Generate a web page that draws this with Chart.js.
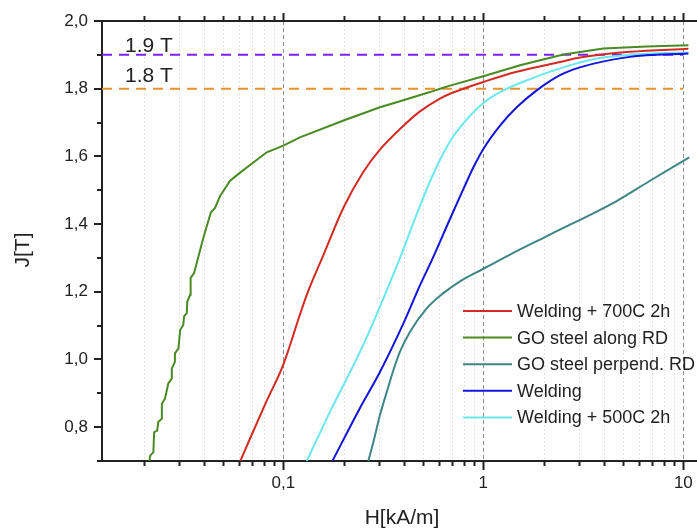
<!DOCTYPE html>
<html>
<head>
<meta charset="utf-8">
<title>J(H)</title>
<script src="https://cdn.jsdelivr.net/npm/chart.js@4.4.1/dist/chart.umd.min.js"></script>
<style>
  html, body { margin: 0; padding: 0; background: #fff; }
  #wrap { width: 697px; height: 528px; }
</style>
</head>
<body>
<div id="wrap"><canvas id="chart" width="697" height="528"></canvas></div>
<script>
// Measured curves, pairs of [H in kA/m, J in T]
const welding700 = [
    [0.061, 0.70], [0.068, 0.765], [0.082, 0.874], [0.100, 0.985], [0.121, 1.132],
    [0.131, 1.191], [0.159, 1.310], [0.200, 1.449], [0.251, 1.554], [0.304, 1.620],
    [0.383, 1.681], [0.482, 1.733], [0.607, 1.771], [0.681, 1.785], [0.794, 1.800],
    [1.0, 1.820], [1.469, 1.850], [2.42, 1.879], [3.04, 1.892], [5.41, 1.909],
    [10.6, 1.918]
];
const goAlongRD = [
    [0.0214, 0.70], [0.0216, 0.716], [0.0224, 0.726], [0.0226, 0.785], [0.0234, 0.790],
    [0.0237, 0.815], [0.0247, 0.825], [0.0247, 0.869], [0.0256, 0.884], [0.0266, 0.929],
    [0.0277, 0.944], [0.0277, 0.973], [0.0287, 0.993], [0.0287, 1.018], [0.0299, 1.033],
    [0.0305, 1.087], [0.0316, 1.102], [0.0319, 1.127], [0.0329, 1.137], [0.0331, 1.171],
    [0.0342, 1.191], [0.0344, 1.241], [0.0358, 1.255], [0.0369, 1.285], [0.0398, 1.359],
    [0.0434, 1.434], [0.0455, 1.447], [0.0483, 1.483], [0.0542, 1.528], [0.0608, 1.552],
    [0.0708, 1.582], [0.0826, 1.612], [0.100, 1.632], [0.121, 1.656], [0.200, 1.706],
    [0.304, 1.745], [0.383, 1.763], [0.541, 1.790], [0.607, 1.800], [0.681, 1.809],
    [1.0, 1.837], [1.526, 1.869], [1.921, 1.884], [2.512, 1.901], [3.981, 1.919],
    [6.56, 1.925], [10.6, 1.928]
];
const goPerpRD = [
    [0.266, 0.70], [0.282, 0.756], [0.304, 0.835], [0.329, 0.904], [0.355, 0.968],
    [0.383, 1.023], [0.430, 1.082], [0.521, 1.151], [0.631, 1.196], [0.765, 1.231],
    [1.0, 1.268], [1.36, 1.310], [2.154, 1.369], [4.64, 1.468], [6.81, 1.528],
    [10.7, 1.597]
];
const welding = [
    [0.176, 0.70], [0.241, 0.855], [0.304, 0.963], [0.398, 1.106], [0.482, 1.219],
    [0.552, 1.293], [0.681, 1.415], [0.794, 1.503], [0.891, 1.567], [1.0, 1.622],
    [1.212, 1.691], [1.469, 1.745], [1.848, 1.795], [2.418, 1.840], [3.04, 1.863],
    [5.41, 1.894], [10.6, 1.904]
];
const welding500 = [
    [0.131, 0.70], [0.171, 0.845], [0.251, 1.043], [0.383, 1.300], [0.464, 1.429],
    [0.562, 1.548], [0.681, 1.644], [0.826, 1.709], [1.0, 1.758], [1.259, 1.795],
    [1.778, 1.832], [2.42, 1.860], [3.69, 1.889], [6.56, 1.903], [10.6, 1.907]
];

const seriesNames = ['Welding + 700C 2h', 'GO steel along RD', 'GO steel perpend. RD', 'Welding', 'Welding + 500C 2h'];
const seriesColors = ['#d42a24', '#4a8a25', '#3f8585', '#1414dc', '#6ae8ee'];

// Saturation reference levels
const refLevels = [1.9, 1.8];
const refNames = ['1.9 T', '1.8 T'];
const refColors = ['#7b22f0', '#e8922e'];

// Axis ranges and ticks
const xMin = 0.0124, xMax = 11.7, xRefEnd = 10;
const xMajor = [0.1, 1, 10];
const xMinor = [0.02, 0.03, 0.04, 0.05, 0.06, 0.07, 0.08, 0.09,
                0.2, 0.3, 0.4, 0.5, 0.6, 0.7, 0.8, 0.9,
                2, 3, 4, 5, 6, 7, 8, 9];
const yMin = 0.7, yMax = 2.0;
const yMajor = [0.8, 1.0, 1.2, 1.4, 1.6, 1.8, 2.0];
const yMinor = [0.7, 0.9, 1.1, 1.3, 1.5, 1.7, 1.9];

const INK = '#222';
const FONT = "'Liberation Sans', Arial, sans-serif";

const toPoints = arr => arr.map(([x, y]) => ({ x, y }));
const fmt = v => String(v).replace('.', ',');

const curves = [welding700, goAlongRD, goPerpRD, welding, welding500].map((d, i) => ({
    label: seriesNames[i],
    data: toPoints(d),
    borderColor: seriesColors[i],
    borderWidth: 2,
    pointRadius: 0,
    tension: 0,
    // the along-RD trace is stepped at low field, keep it straight-segmented
    cubicInterpolationMode: d === goAlongRD ? 'default' : 'monotone'
}));

const refLines = refLevels.map((lvl, i) => ({
    label: refNames[i],
    data: [{ x: xMin, y: lvl }, { x: xRefEnd, y: lvl }],
    borderColor: refColors[i],
    borderWidth: 2,
    borderDash: [10, 7],
    pointRadius: 0
}));

// vertical grid: dashed at decades, faint dotted in between
const gridLines = {
    id: 'gridLines',
    beforeDatasetsDraw(chart) {
        const { ctx, chartArea: a, scales: { x } } = chart;
        ctx.save();
        ctx.lineWidth = 1;
        x.ticks.forEach(t => {
            const px = Math.round(x.getPixelForValue(t.value)) + 0.5;
            if (xMajor.includes(t.value)) {
                ctx.strokeStyle = '#8c8c8c';
                ctx.setLineDash([4, 3]);
            } else {
                ctx.strokeStyle = '#e2e2e2';
                ctx.setLineDash([2, 2]);
            }
            ctx.beginPath();
            ctx.moveTo(px, a.top);
            ctx.lineTo(px, a.bottom);
            ctx.stroke();
        });
        ctx.restore();
    }
};

// frame top line, outward tick marks, level labels, axis titles and legend
const decorations = {
    id: 'decorations',
    afterDraw(chart) {
        const { ctx, chartArea: a, scales: { x, y } } = chart;
        ctx.save();
        ctx.strokeStyle = INK;
        ctx.lineWidth = 2;
        ctx.beginPath();
        ctx.moveTo(a.left - 1, a.top);
        ctx.lineTo(a.right, a.top);
        ctx.stroke();

        x.ticks.forEach(t => {
            const px = Math.round(x.getPixelForValue(t.value)) + 0.5;
            const major = xMajor.includes(t.value);
            ctx.beginPath();
            ctx.moveTo(px, a.bottom);
            ctx.lineTo(px, a.bottom + (major ? 9 : 5));
            ctx.moveTo(px, a.top);
            ctx.lineTo(px, a.top - (major ? 8 : 5));
            ctx.stroke();
        });
        y.ticks.forEach(t => {
            const py = Math.round(y.getPixelForValue(t.value));
            const major = yMajor.includes(t.value);
            ctx.beginPath();
            ctx.moveTo(a.left, py);
            ctx.lineTo(a.left - (major ? 8 : 5), py);
            ctx.stroke();
        });

        ctx.fillStyle = INK;
        ctx.font = '21px ' + FONT;
        ctx.textAlign = 'left';
        ctx.textBaseline = 'alphabetic';
        const lift = [3, 7];
        refLevels.forEach((lvl, i) => {
            ctx.fillText(refNames[i], a.left + 23, y.getPixelForValue(lvl) - lift[i]);
        });

        ctx.textAlign = 'center';
        ctx.textBaseline = 'middle';
        ctx.fillText('H[kA/m]', 402, 518);
        ctx.save();
        ctx.translate(23, 250);
        ctx.rotate(-Math.PI / 2);
        ctx.fillText('J[T]', 0, 0);
        ctx.restore();

        ctx.font = '18px ' + FONT;
        ctx.textAlign = 'left';
        seriesNames.forEach((name, i) => {
            const ly = 311 + i * 26.6;
            ctx.strokeStyle = seriesColors[i];
            ctx.lineWidth = 2;
            ctx.beginPath();
            ctx.moveTo(463, ly);
            ctx.lineTo(512, ly);
            ctx.stroke();
            ctx.fillText(name, 517, ly + 1);
        });
        ctx.restore();
    }
};

Chart.defaults.font.family = FONT;
Chart.defaults.color = INK;

new Chart(document.getElementById('chart'), {
    type: 'line',
    data: { datasets: [...curves, ...refLines] },
    options: {
        responsive: false,
        animation: false,
        devicePixelRatio: 1,
        layout: { autoPadding: false, padding: { top: 21, right: 0, left: 0, bottom: 0 } },
        plugins: { legend: { display: false }, tooltip: { enabled: false } },
        scales: {
            x: {
                type: 'logarithmic',
                min: xMin,
                max: xMax,
                afterBuildTicks: s => { s.ticks = [...xMinor, ...xMajor].sort((p, q) => p - q).map(v => ({ value: v })); },
                afterFit: s => {
                    s.height = 67;
                    s.paddingLeft = 0;
                    s.paddingRight = 0;
                },
                grid: { display: false, drawTicks: false },
                border: { display: true, color: INK, width: 2 },
                ticks: {
                    autoSkip: false,
                    maxRotation: 0,
                    padding: 12,
                    font: { size: 17 },
                    callback: v => xMajor.includes(v) ? fmt(v) : ''
                }
            },
            y: {
                type: 'linear',
                min: yMin,
                max: yMax,
                afterBuildTicks: s => { s.ticks = [...yMinor, ...yMajor].sort((p, q) => p - q).map(v => ({ value: v })); },
                afterFit: s => {
                    s.width = 102;
                    s.paddingTop = 0;
                    s.paddingBottom = 0;
                },
                grid: { display: false, drawTicks: false },
                border: { display: true, color: INK, width: 2 },
                ticks: {
                    autoSkip: false,
                    padding: 14,
                    font: { size: 17 },
                    callback: v => yMajor.includes(v) ? v.toFixed(1).replace('.', ',') : ''
                }
            }
        }
    },
    plugins: [gridLines, decorations]
});
</script>
</body>
</html>
